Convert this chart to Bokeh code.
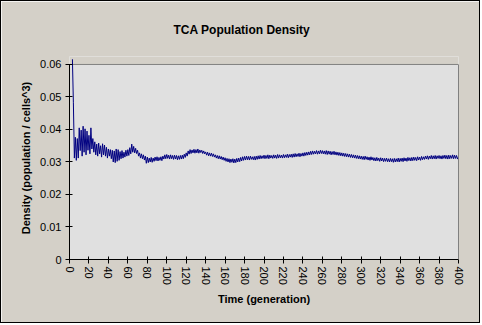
from bokeh.plotting import figure
from bokeh.models import Range1d, FixedTicker, LinearAxis, Span, BoxAnnotation
from bokeh.embed import file_html
from bokeh.resources import INLINE

title_text = "TCA Population Density"
x_label = "Time (generation)"
y_label = "Density (population / cells^3)"

x_ticks = list(range(0, 401, 20))
y_ticks = [0, 0.01, 0.02, 0.03, 0.04, 0.05, 0.06]
y_tick_labels = ["0", "0.01", "0.02", "0.03", "0.04", "0.05", "0.06"]

first_generation = 3
density = [
    0.0616, 0.0482, 0.0312, 0.0376, 0.0305, 0.0372, 0.0312,
    0.0405, 0.0335, 0.0398, 0.0318, 0.0410, 0.0330, 0.0402, 0.0322, 0.0395, 0.0336,
    0.0382, 0.0325, 0.0405, 0.0340, 0.0372, 0.0330, 0.0362, 0.0322, 0.0355, 0.0318,
    0.0358, 0.0325, 0.0350, 0.0315, 0.0356, 0.0322, 0.0352, 0.0318, 0.0345, 0.0312,
    0.0340, 0.0318, 0.0338, 0.0310, 0.0336, 0.0300, 0.0334, 0.0298, 0.0340, 0.0302,
    0.0338, 0.0305, 0.0332, 0.0310, 0.0335, 0.0312, 0.0330, 0.0315, 0.0336, 0.0318,
    0.0338, 0.0320, 0.0344, 0.0325, 0.0355, 0.0330, 0.0348, 0.0328, 0.0342, 0.0326,
    0.0336, 0.0318, 0.0328, 0.0312, 0.0325, 0.0310, 0.0322, 0.0306, 0.0318, 0.0296,
    0.0315, 0.0298, 0.0312, 0.0300, 0.0314, 0.0299, 0.0312, 0.0302, 0.0315, 0.0304,
    0.0316, 0.0303, 0.0314, 0.0305, 0.0316, 0.0304, 0.0318, 0.0309, 0.0322, 0.0310,
    0.0323, 0.0311, 0.0321, 0.0309, 0.0322, 0.0310, 0.0320, 0.0308, 0.0321, 0.0309,
    0.0320, 0.0307, 0.0319, 0.0308, 0.0320, 0.0309, 0.0321, 0.0310, 0.0324, 0.0314,
    0.0328, 0.0318, 0.0334, 0.0324, 0.0338, 0.0326, 0.0337, 0.0328, 0.0339, 0.0327,
    0.0338, 0.0328, 0.0340, 0.0327, 0.0337, 0.0329, 0.0336, 0.0326, 0.0334, 0.0325,
    0.0331, 0.0321, 0.0330, 0.0319, 0.0328, 0.0318, 0.0327, 0.0317, 0.0325, 0.0315,
    0.0322, 0.0312, 0.0320, 0.0310, 0.0319, 0.0309, 0.0317, 0.0307, 0.0315, 0.0305,
    0.0313, 0.0302, 0.0311, 0.0300, 0.0310, 0.0298, 0.0309, 0.0299, 0.0310, 0.0297,
    0.0309, 0.0298, 0.0311, 0.0300, 0.0312, 0.0301, 0.0314, 0.0303, 0.0316, 0.0305,
    0.0317, 0.0306, 0.0318, 0.0307, 0.0317, 0.0306, 0.0318, 0.0308, 0.0316, 0.0307,
    0.0317, 0.0306, 0.0318, 0.0308, 0.0319, 0.0309, 0.0320, 0.0310, 0.0319, 0.0311,
    0.0321, 0.0310, 0.0320, 0.0311, 0.0322, 0.0310, 0.0321, 0.0312, 0.0320, 0.0311,
    0.0322, 0.0312, 0.0321, 0.0311, 0.0323, 0.0312, 0.0322, 0.0313, 0.0321, 0.0312,
    0.0323, 0.0313, 0.0322, 0.0314, 0.0324, 0.0313, 0.0323, 0.0315, 0.0324, 0.0314,
    0.0325, 0.0315, 0.0326, 0.0316, 0.0325, 0.0317, 0.0327, 0.0316, 0.0326, 0.0318,
    0.0328, 0.0318, 0.0329, 0.0320, 0.0330, 0.0321, 0.0331, 0.0322, 0.0333, 0.0323,
    0.0334, 0.0324, 0.0333, 0.0325, 0.0335, 0.0324, 0.0334, 0.0325, 0.0336, 0.0326,
    0.0335, 0.0325, 0.0334, 0.0324, 0.0335, 0.0323, 0.0334, 0.0324, 0.0333, 0.0322,
    0.0332, 0.0323, 0.0333, 0.0322, 0.0331, 0.0321, 0.0330, 0.0320, 0.0329, 0.0319,
    0.0328, 0.0318, 0.0327, 0.0317, 0.0326, 0.0316, 0.0325, 0.0315, 0.0324, 0.0314,
    0.0323, 0.0313, 0.0322, 0.0312, 0.0321, 0.0311, 0.0320, 0.0310, 0.0319, 0.0309,
    0.0318, 0.0308, 0.0317, 0.0307, 0.0318, 0.0308, 0.0316, 0.0306, 0.0315, 0.0305,
    0.0316, 0.0306, 0.0314, 0.0304, 0.0313, 0.0303, 0.0314, 0.0304, 0.0312, 0.0302,
    0.0313, 0.0303, 0.0312, 0.0301, 0.0311, 0.0302, 0.0312, 0.0301, 0.0310, 0.0300,
    0.0311, 0.0301, 0.0310, 0.0299, 0.0311, 0.0300, 0.0310, 0.0301, 0.0312, 0.0300,
    0.0311, 0.0302, 0.0312, 0.0301, 0.0313, 0.0303, 0.0312, 0.0302, 0.0314, 0.0304,
    0.0313, 0.0303, 0.0314, 0.0304, 0.0315, 0.0305, 0.0314, 0.0304, 0.0316, 0.0306,
    0.0315, 0.0305, 0.0317, 0.0307, 0.0316, 0.0308, 0.0318, 0.0309, 0.0319, 0.0308,
    0.0318, 0.0310, 0.0320, 0.0309, 0.0319, 0.0310, 0.0320, 0.0309, 0.0319, 0.0311,
    0.0320, 0.0310, 0.0319, 0.0309, 0.0320, 0.0311, 0.0321, 0.0310, 0.0320, 0.0309,
    0.0321, 0.0310, 0.0320, 0.0311, 0.0322, 0.0310, 0.0321, 0.0311, 0.0320, 0.0309,
    0.0316,
]
generations = list(range(first_generation, first_generation + len(density)))

OUTER = "#D4D0C8"
PLOT_BG = "#E0E0E0"
FONT = "Liberation Sans"

p = figure(width=480, height=323, output_backend="svg", toolbar_location=None,
           x_range=Range1d(0, 400), y_range=Range1d(0, 0.06245),
           min_border_left=68, min_border_right=23, min_border_top=54, min_border_bottom=65,
           background_fill_color=PLOT_BG, border_fill_color=OUTER,
           outline_line_color=None)
p.styles = {"border": "1px solid black"}
p.grid.visible = False

p.title.text = title_text
p.title.align = "left"
p.title.offset = 104
p.title.standoff = 39
p.title.text_font = FONT
p.title.text_font_size = "12px"
p.title.text_font_style = "bold"
p.title.text_color = "black"

# strip above the 0.06 top edge, in chart-area colour
p.add_layout(BoxAnnotation(bottom=0.06, fill_color=OUTER, fill_alpha=1.0,
                           line_alpha=0, level="underlay"))
p.add_layout(Span(location=0.06, dimension="width", line_color="#808080",
                  line_width=1, level="underlay"))

p.line(generations, density, line_color="#000080", line_width=1)

xa = p.xaxis[0]
xa.ticker = FixedTicker(ticks=x_ticks)
xa.bounds = (0, 400)
xa.major_label_orientation = "vertical"
xa.major_tick_in = 3
xa.major_tick_out = 4
xa.minor_tick_line_color = None
xa.major_label_standoff = 3
xa.axis_label = x_label
xa.axis_label_standoff = 5

ya = p.yaxis[0]
ya.ticker = FixedTicker(ticks=y_ticks)
ya.major_label_overrides = {t: s for t, s in zip(y_ticks, y_tick_labels)}
ya.bounds = (0, 0.06)
ya.major_tick_in = 3
ya.major_tick_out = 4
ya.minor_tick_line_color = None
ya.major_label_standoff = 4
ya.axis_label = y_label
ya.axis_label_standoff = 5

for ax in (xa, ya):
    ax.axis_line_color = "black"
    ax.major_tick_line_color = "black"
    ax.major_label_text_font = FONT
    ax.major_label_text_font_size = "11px"
    ax.major_label_text_color = "black"
    ax.axis_label_text_font = FONT
    ax.axis_label_text_font_size = "11px"
    ax.axis_label_text_font_style = "bold"
    ax.axis_label_text_color = "black"

right = LinearAxis(bounds=(0, 0.06), axis_line_color="#808080",
                   ticker=FixedTicker(ticks=[]),
                   major_tick_line_color=None, minor_tick_line_color=None)
p.add_layout(right, "right")

open("out.html", "w").write(file_html(p, INLINE))
